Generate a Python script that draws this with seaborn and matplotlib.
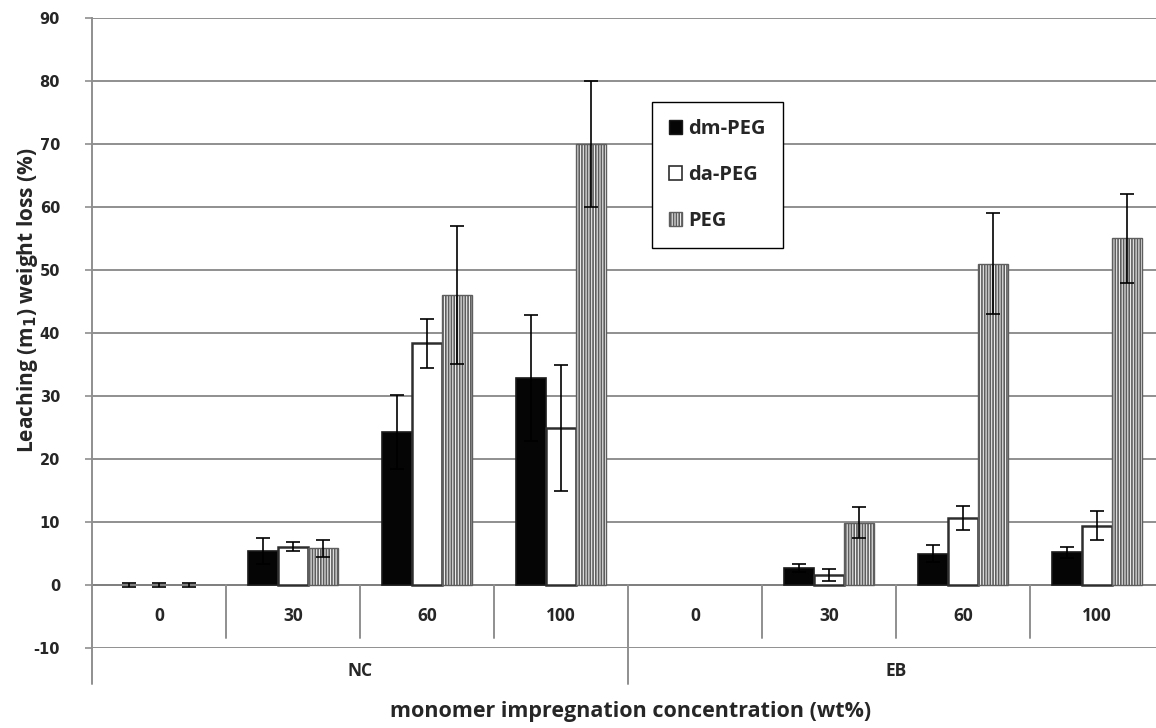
import numpy as np
import pandas as pd
import matplotlib
matplotlib.use("Agg")
import matplotlib.pyplot as plt
from matplotlib.patches import Patch
import seaborn as sns

# values
groups = ["NC", "NC", "NC", "NC", "EB", "EB", "EB", "EB"]
concentrations = ["0", "30", "60", "100", "0", "30", "60", "100"]
series = ["dm-PEG", "da-PEG", "PEG"]

dm_peg = [0.0, 5.4, 24.3, 32.9, 0.0, 2.7, 5.0, 5.2]
dm_peg_err = [0.3, 2.0, 5.9, 10.0, np.nan, 0.6, 1.3, 0.9]
da_peg = [0.0, 6.1, 38.4, 24.9, 0.0, 1.6, 10.7, 9.4]
da_peg_err = [0.3, 0.7, 3.9, 10.0, np.nan, 0.9, 1.9, 2.3]
peg = [0.0, 5.8, 46.0, 70.0, 0.0, 9.9, 51.0, 55.0]
peg_err = [0.3, 1.3, 11.0, 10.0, np.nan, 2.5, 8.0, 7.0]

yticks = list(range(-10, 91, 10))

keys = [g + "-" + c for g, c in zip(groups, concentrations)]
df = pd.DataFrame({
    "key": keys * 3,
    "series": np.repeat(series, len(keys)),
    "value": dm_peg + da_peg + peg,
    "err": dm_peg_err + da_peg_err + peg_err,
})

sns.set_style("white")
plt.rcParams["font.family"] = ["Open Sans", "DejaVu Sans"]
plt.rcParams["font.weight"] = "bold"
plt.rcParams["hatch.linewidth"] = 1.2

fig = plt.figure(figsize=(11.56, 7.28), dpi=100)
ax = fig.add_axes([92 / 1156, 1 - 648 / 728, 1 - 92 / 1156, 630 / 728])

sns.barplot(
    data=df, x="key", y="value", hue="series",
    order=keys, hue_order=series,
    palette=["#050505", "white", "#ececec"],
    errorbar=None, width=0.675, saturation=1, legend=False, ax=ax,
)

grid_col = "#8f8f8f"
styles = {
    "dm-PEG": dict(edgecolor="#1a1a1a", linewidth=1.2, hatch=None),
    "da-PEG": dict(edgecolor="#2e2e2e", linewidth=1.8, hatch=None),
    "PEG": dict(edgecolor="#5e5e5e", linewidth=1.0, hatch="||||||"),
}

for name, cont in zip(series, ax.containers):
    sub = df[df["series"] == name]
    xs = []
    for patch in cont.patches:
        st = styles[name]
        patch.set_edgecolor(st["edgecolor"])
        patch.set_linewidth(st["linewidth"])
        if st["hatch"]:
            patch.set_hatch(st["hatch"])
        if patch.get_height() == 0:
            patch.set_visible(False)
        patch.set_zorder(3)
        xs.append(patch.get_x() + patch.get_width() / 2)
    ax.errorbar(xs, sub["value"].values, yerr=sub["err"].values, fmt="none",
                ecolor="black", elinewidth=1.2, capsize=5, capthick=1.2, zorder=4)

ax.set_ylim(-10, 90)
ax.set_xlim(-0.5, -0.5 + 1064 / 134)
ax.set_yticks(yticks)
ax.set_yticklabels([str(t) for t in yticks], fontfamily="DejaVu Sans",
                   fontweight="bold", fontsize=10.5)
ax.yaxis.grid(True, color=grid_col, linewidth=1.4, zorder=0)
ax.set_axisbelow(True)
ax.tick_params(axis="y", length=5, width=1.2, color=grid_col, left=True, pad=18)
ax.set_xticks([])
ax.set_xlabel("")
for s in ["top", "right", "bottom"]:
    ax.spines[s].set_visible(False)
ax.spines["left"].set_color(grid_col)
ax.spines["left"].set_linewidth(1.4)

# category axis crossing at zero
ax.axhline(0, color="#808080", linewidth=1.4, zorder=2)
ax.plot([-0.5, -0.5], [-10, -15.7], color=grid_col, lw=1.4, clip_on=False)
ax.plot([3.5, 3.5], [0, -15.7], color=grid_col, lw=1.4, clip_on=False)
for b in [0.5, 1.5, 2.5, 4.5, 5.5, 6.5]:
    ax.plot([b, b], [0, -8.4], color=grid_col, lw=1.4)
for i, c in enumerate(concentrations):
    ax.text(i, -4.9, c, ha="center", va="center", fontsize=12.5, fontweight="bold")
for i, g in enumerate(["NC", "EB"]):
    ax.text(1.5 + 4 * i, -13.65, g, ha="center", va="center", fontsize=12.5,
            fontweight="bold", clip_on=False)

ax.set_ylabel("Leaching (m$_\\mathbf{1}$) weight loss (%)", fontsize=15, fontweight="bold")
ax.yaxis.set_label_coords(-0.049, 0.552)
fig.text(631 / 1156, 1 - 712 / 728, "monomer impregnation concentration (wt%)",
         ha="center", va="center", fontsize=15.5, fontweight="bold")

handles = [
    Patch(facecolor="#050505", edgecolor="#1a1a1a", label="dm-PEG"),
    Patch(facecolor="white", edgecolor="#2e2e2e", linewidth=1.2, label="da-PEG"),
    Patch(facecolor="#ececec", edgecolor="#5e5e5e", hatch="||||||", label="PEG"),
]
leg = ax.legend(handles=handles, loc="upper left", bbox_to_anchor=(0.526, 0.867),
                borderaxespad=0, frameon=True, fancybox=False, edgecolor="black",
                framealpha=1, prop={"family": "Open Sans", "weight": "bold", "size": 14.5},
                handlelength=0.66, handleheight=0.66, handletextpad=0.3,
                labelspacing=1.3, borderpad=0.85)
leg.get_frame().set_linewidth(1.0)

fig.savefig("out.png", dpi=100)
